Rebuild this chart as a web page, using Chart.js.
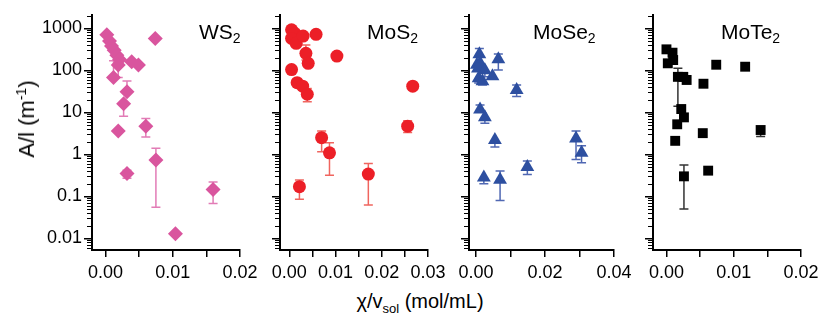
<!DOCTYPE html>
<html>
<head>
<meta charset="utf-8">
<script src="https://cdn.jsdelivr.net/npm/chart.js@4.4.0/dist/chart.umd.min.js"></script>
<style>
    body { margin: 0; background: #fff; }
    #wrap { position: relative; width: 820px; height: 320px; font-family: "Liberation Sans", Arial, sans-serif; color: #000; }
    #wrap canvas { position: absolute; top: 0; }
    .txt { position: absolute; white-space: nowrap; line-height: 20px; }
    .ptitle { font-size: 21px; top: 22px; }
    .ptitle sub { font-size: 14px; vertical-align: baseline; position: relative; top: 4px; }
    #ytitle { font-size: 22px; left: 28px; top: 119px; transform: translate(-50%, -50%) rotate(-90deg); }
    #ytitle sup { font-size: 14px; vertical-align: baseline; position: relative; top: -8px; }
    #xtitle { font-size: 20px; left: 420px; top: 291px; transform: translateX(-50%); }
    #xtitle sub { font-size: 13px; vertical-align: baseline; position: relative; top: 5px; }
</style>
</head>
<body>
<div id="wrap">
    <canvas id="c1"></canvas>
    <canvas id="c2"></canvas>
    <canvas id="c3"></canvas>
    <canvas id="c4"></canvas>
    <div class="txt ptitle" style="left:199px">WS<sub>2</sub></div>
    <div class="txt ptitle" style="left:367px">MoS<sub>2</sub></div>
    <div class="txt ptitle" style="left:533px">MoSe<sub>2</sub></div>
    <div class="txt ptitle" style="left:721px">MoTe<sub>2</sub></div>
    <div class="txt" id="ytitle">A/l (m<sup>-1</sup>)</div>
    <div class="txt" id="xtitle">&chi;/v<sub>sol</sub> (mol/mL)</div>
</div>
<script>
// shared y axis (log)
const yTicks = [0.01, 0.1, 1, 10, 100, 1000];
const yTickLabels = ['0.01', '0.1', '1', '10', '100', '1000'];

// WS2
const ws2X  = [0.0002, 0.0006, 0.0009, 0.0013, 0.0017, 0.0021, 0.0019, 0.0039, 0.0049, 0.0012, 0.0032, 0.0027, 0.0019, 0.0060, 0.0075, 0.0032, 0.0160, 0.0104, 0.0074];
const ws2Y  = [700, 500, 380, 300, 230, 180, 134, 160, 134, 68, 31, 16, 3.6, 4.7, 0.73, 0.35, 0.145, 0.013, 570];
const ws2Lo = [null, null, null, null, null, null, 68, null, null, null, null, 8.1, null, 2.6, 0.055, 0.27, 0.068, null, null];
const ws2Hi = [null, null, null, null, null, null, null, null, null, 170, 56, null, null, 7.1, 1.39, 0.42, 0.22, null, null];
const ws2XTicks = [0, 0.005, 0.01, 0.015, 0.02];
const ws2XLabels = ['0.00', '', '0.01', '', '0.02'];

// MoS2
const mos2X  = [0.0005, 0.0012, 0.0005, 0.0015, 0.0030, 0.0058, 0.0036, 0.0041, 0.0103, 0.0005, 0.0017, 0.0029, 0.0039, 0.0267, 0.0256, 0.0070, 0.0087, 0.0171, 0.0022];
const mos2Y  = [920, 760, 575, 440, 655, 720, 254, 147, 218, 104, 51, 42, 27, 42, 4.7, 2.5, 1.09, 0.34, 0.17];
const mos2Lo = [null, null, null, null, null, null, 176, null, 190, null, null, null, 18, null, 3.3, 1.15, 0.32, 0.062, 0.085];
const mos2Hi = [null, null, null, null, null, null, 400, null, 250, null, null, null, 37, null, 6.3, 3.6, 1.9, 0.61, 0.245];
const mos2XTicks = [0, 0.005, 0.01, 0.015, 0.02, 0.025, 0.03];
const mos2XLabels = ['0.00', '', '0.01', '', '0.02', '', '0.03'];

// MoSe2
const mose2X  = [0.0010, 0.0003, 0.0012, 0.0006, 0.0026, 0.0008, 0.0048, 0.0019, 0.0065, 0.0118, 0.0012, 0.0026, 0.0055, 0.0290, 0.0306, 0.0149, 0.0023, 0.0070];
const mose2Y  = [240, 135, 150, 110, 100, 65, 72, 55, 183, 34, 11.7, 7.6, 2.2, 2.4, 1.1, 0.5, 0.28, 0.25];
const mose2Lo = [null, null, null, null, 70, 50, null, 45, 102, 24, null, 5.5, 1.5, 0.76, 0.63, 0.33, 0.2, 0.08];
const mose2Hi = [330, null, null, null, null, null, null, null, 245, 45, 15, null, null, 3.6, 1.6, 0.7, null, 0.4];
const mose2XTicks = [0, 0.01, 0.02, 0.03, 0.04];
const mose2XLabels = ['0.00', '', '0.02', '', '0.04'];

// MoTe2
const mote2X  = [0.0000, 0.0009, 0.0002, 0.0010, 0.0017, 0.0025, 0.0030, 0.0074, 0.0117, 0.0055, 0.0022, 0.0026, 0.0016, 0.0013, 0.0054, 0.0140, 0.0062, 0.0026];
const mote2Y  = [316, 263, 147, 176, 70, 70, 59, 136, 122, 48, 12, 7.6, 5.2, 2.1, 3.2, 3.8, 0.41, 0.3];
const mote2Lo = [null, null, null, null, 14, null, null, null, null, null, null, null, null, null, null, 2.65, null, 0.05];
const mote2Hi = [null, null, null, null, 112, null, null, null, null, null, null, null, null, null, null, null, null, 0.56];
const mote2XTicks = [0, 0.005, 0.01, 0.015, 0.02];
const mote2XLabels = ['0.00', '', '0.01', '', '0.02'];

const Y_AXIS_W = 62;
const RIGHT_PAD = 25;
const CANVAS_H = 290;

// error bars drawn under the markers
const errorBars = {
    id: 'errorBars',
    beforeDatasetsDraw(chart, args, opts) {
        const ctx = chart.ctx;
        const yScale = chart.scales.y;
        const pts = chart.getDatasetMeta(0).data;
        ctx.save();
        ctx.strokeStyle = opts.color;
        ctx.lineWidth = 1.5;
        pts.forEach((pt, i) => {
            const lo = opts.lo[i], hi = opts.hi[i];
            if (lo == null && hi == null) return;
            const x = pt.x;
            const yTop = hi != null ? yScale.getPixelForValue(hi) : pt.y;
            const yBot = lo != null ? yScale.getPixelForValue(lo) : pt.y;
            ctx.beginPath();
            ctx.moveTo(x, yTop);
            ctx.lineTo(x, yBot);
            if (hi != null) { ctx.moveTo(x - 4.5, yTop); ctx.lineTo(x + 4.5, yTop); }
            if (lo != null) { ctx.moveTo(x - 4.5, yBot); ctx.lineTo(x + 4.5, yBot); }
            ctx.stroke();
        });
        ctx.restore();
    }
};

// short minor ticks on the log axis
const minorTicks = {
    id: 'minorTicks',
    afterDraw(chart) {
        const y = chart.scales.y;
        const ctx = chart.ctx;
        const left = chart.chartArea.left;
        ctx.save();
        ctx.strokeStyle = '#000';
        ctx.lineWidth = 1;
        for (let e = -3; e <= 3; e++) {
            for (let k = 2; k <= 9; k++) {
                const v = k * Math.pow(10, e);
                if (v < y.min || v > y.max) continue;
                const p = Math.round(y.getPixelForValue(v)) + 0.5;
                ctx.beginPath();
                ctx.moveTo(left - 5, p);
                ctx.lineTo(left, p);
                ctx.stroke();
            }
        }
        ctx.restore();
    }
};

function makePanel(id, plotLeft, plotW, xs, ys, lo, hi, xMax, xTicks, xLabels, style, showY) {
    const canvas = document.getElementById(id);
    canvas.width = Y_AXIS_W + plotW + RIGHT_PAD;
    canvas.height = CANVAS_H;
    canvas.style.left = (plotLeft - Y_AXIS_W) + 'px';

    const points = xs.map((x, i) => ({ x: x, y: ys[i] }));
    const tickFont = { family: 'Liberation Sans', size: 18 };

    new Chart(canvas, {
        type: 'scatter',
        data: {
            datasets: [{
                data: points,
                pointStyle: style.shape,
                pointRadius: style.radius,
                pointHoverRadius: style.radius,
                backgroundColor: style.color,
                borderColor: style.color,
                borderWidth: 0
            }]
        },
        options: {
            responsive: false,
            animation: false,
            events: [],
            layout: { padding: { top: 15, right: RIGHT_PAD, left: 0, bottom: 0 } },
            plugins: {
                legend: { display: false },
                tooltip: { enabled: false },
                errorBars: { lo: lo, hi: hi, color: style.errColor }
            },
            scales: {
                x: {
                    type: 'linear',
                    min: -0.002,
                    max: xMax,
                    afterBuildTicks: s => { s.ticks = xTicks.map(v => ({ value: v })); },
                    afterFit: s => { s.height = CANVAS_H - 250; s.paddingLeft = 0; s.paddingRight = 0; },
                    border: { display: true, color: '#000', width: 2 },
                    grid: { drawOnChartArea: false, drawTicks: true, tickLength: 7, color: '#000', lineWidth: 1.5 },
                    ticks: {
                        autoSkip: false,
                        maxRotation: 0,
                        padding: 5,
                        color: '#000',
                        font: tickFont,
                        callback: (v, i) => xLabels[i]
                    }
                },
                y: {
                    type: 'logarithmic',
                    min: 0.0053,
                    max: 2075,
                    afterBuildTicks: s => { s.ticks = yTicks.map(v => ({ value: v })); },
                    afterFit: s => { s.width = Y_AXIS_W; s.paddingTop = 0; s.paddingBottom = 0; },
                    border: { display: true, color: '#000', width: 2 },
                    grid: { drawOnChartArea: false, drawTicks: true, tickLength: 8, color: '#000', lineWidth: 1.5 },
                    ticks: {
                        autoSkip: false,
                        padding: 2,
                        color: '#000',
                        font: tickFont,
                        callback: (v, i) => showY ? yTickLabels[i] : ''
                    }
                }
            }
        },
        plugins: [errorBars, minorTicks]
    });
}

makePanel('c1', 92, 148, ws2X, ws2Y, ws2Lo, ws2Hi, 0.02, ws2XTicks, ws2XLabels,
    { shape: 'rectRot', radius: 7.5, color: '#d9559e', errColor: '#e27cb6' }, true);
makePanel('c2', 280, 148, mos2X, mos2Y, mos2Lo, mos2Hi, 0.03, mos2XTicks, mos2XLabels,
    { shape: 'circle', radius: 6.5, color: '#ec1f27', errColor: '#f0655f' }, false);
makePanel('c3', 469, 145, mose2X, mose2Y, mose2Lo, mose2Hi, 0.04, mose2XTicks, mose2XLabels,
    { shape: 'triangle', radius: 8, color: '#2d4fa0', errColor: '#5068b3' }, false);
makePanel('c4', 653, 148, mote2X, mote2Y, mote2Lo, mote2Hi, 0.02, mote2XTicks, mote2XLabels,
    { shape: 'rect', radius: 7, color: '#000000', errColor: '#333333' }, false);
</script>
</body>
</html>
